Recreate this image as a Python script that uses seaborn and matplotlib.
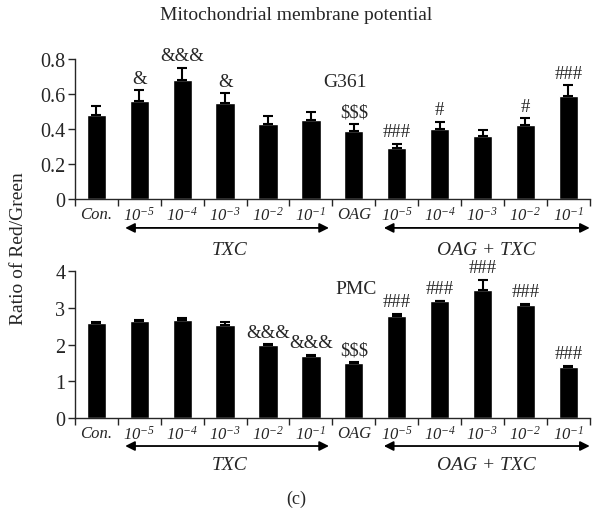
import matplotlib
matplotlib.use("Agg")
import matplotlib.pyplot as plt
import seaborn as sns
import pandas as pd
import numpy as np

sns.set_style("ticks")
plt.rcParams['font.family'] = ['Liberation Serif', 'DejaVu Serif']
plt.rcParams['mathtext.fontset'] = 'custom'
plt.rcParams['mathtext.rm'] = 'Liberation Serif:italic'
plt.rcParams['mathtext.it'] = 'Liberation Serif:italic'

groups = ["Con", "T5", "T4", "T3", "T2", "T1", "OAG", "OT5", "OT4", "OT3", "OT2", "OT1"]
tick_labels = ["Con.", r"$10^{-5}$", r"$10^{-4}$", r"$10^{-3}$", r"$10^{-2}$", r"$10^{-1}$",
               "OAG", r"$10^{-5}$", r"$10^{-4}$", r"$10^{-3}$", r"$10^{-2}$", r"$10^{-1}$"]

g361_mean = [0.48, 0.56, 0.68, 0.55, 0.43, 0.45, 0.39, 0.29, 0.40, 0.36, 0.42, 0.59]
g361_err = [0.05, 0.06, 0.07, 0.055, 0.045, 0.045, 0.04, 0.025, 0.04, 0.035, 0.04, 0.06]
g361_sig = ["", "&", "&&&", "&", "", "", "$$$", "###", "#", "", "#", "###"]

pmc_mean = [2.59, 2.64, 2.68, 2.54, 2.00, 1.70, 1.50, 2.79, 3.18, 3.49, 3.09, 1.40]
pmc_err = [0.03, 0.02, 0.05, 0.08, 0.01, 0.02, 0.03, 0.05, 0.02, 0.28, 0.02, 0.03]
pmc_sig = ["", "", "", "", "&&&", "&&&", "$$$", "###", "###", "###", "###", "###"]

fig = plt.figure(figsize=(5.93, 5.10), dpi=100)
ax1 = fig.add_axes([0.1265, 0.608, 0.868, 0.2745])
ax2 = fig.add_axes([0.1265, 0.1784, 0.868, 0.288])


def panel(ax, mean, err, sig, ymax, yticks, ylabels, cell, cell_xy, arrow_px, text_px):
    df = pd.DataFrame({"group": groups, "value": mean})
    sns.barplot(data=df, x="group", y="value", order=groups, color="black",
                width=0.45, errorbar=None, ax=ax, saturation=1)
    x = np.arange(len(groups))
    ax.errorbar(x, mean, yerr=[np.zeros(len(mean)), err], fmt="none",
                ecolor="black", elinewidth=1.5, capsize=3.5, capthick=1.5)
    for xi, m, e, s in zip(x, mean, err, sig):
        if s:
            ax.annotate(s, (xi, m + e), xytext=(0, 2.5), textcoords="offset points",
                        ha="center", va="bottom", fontsize=13.5, annotation_clip=False)
    ax.text(cell_xy[0], cell_xy[1], cell, ha="center", va="center", fontsize=14)
    ax.patch.set_visible(False)
    ax.set_xlim(-0.5, 11.5)
    ax.set_ylim(0, ymax)
    ax.set_yticks(yticks)
    ax.set_yticklabels(ylabels, fontsize=14.5)
    ax.set_xticks(x)
    ax.set_xticklabels(tick_labels, fontsize=12, style="italic")
    ax.set_xticks(np.arange(-0.5, 12, 1), minor=True)
    ax.tick_params(axis="x", which="major", length=0, pad=5)
    ax.tick_params(axis="x", which="minor", length=5, width=1)
    ax.tick_params(axis="y", length=5, width=1, pad=2)
    ax.set_xlabel("")
    ax.set_ylabel("")
    for sp in ["top", "right"]:
        ax.spines[sp].set_visible(False)
    for sp in ["left", "bottom"]:
        ax.spines[sp].set_linewidth(1)
    trans = ax.get_xaxis_transform()
    h = ax.get_position().height * 510
    ya = -arrow_px / h
    yt = -text_px / h
    for x0, x1, lab, xc in [(0.67, 5.42, "TXC", 3.1), (6.7, 11.5, "OAG + TXC", 9.1)]:
        ax.annotate("", xy=(x1, ya), xytext=(x0, ya), xycoords=trans, textcoords=trans,
                    arrowprops=dict(arrowstyle="<|-|>", color="black", lw=1.3,
                                    mutation_scale=14, shrinkA=0, shrinkB=0),
                    annotation_clip=False)
        ax.text(xc, yt, lab, transform=trans, ha="center", va="center",
                fontsize=14, style="italic")


panel(ax1, g361_mean, g361_err, g361_sig, 0.8, [0, 0.2, 0.4, 0.6, 0.8],
      ["0", "0.2", "0.4", "0.6", "0.8"], "G361", (5.79, 0.67), 29, 51)
panel(ax2, pmc_mean, pmc_err, pmc_sig, 4, [0, 1, 2, 3, 4],
      ["0", "1", "2", "3", "4"], "PMC", (6.05, 3.54), 28, 46)

fig.text(0.5, 0.97, "Mitochondrial membrane potential", ha="center", va="center", fontsize=14)
fig.text(0.032, 0.512, "Ratio of Red/Green", rotation=90, ha="center", va="center", fontsize=14)
fig.text(0.5, 0.02, "(c)", ha="center", va="center", fontsize=13)

fig.savefig("out.png", dpi=100)
